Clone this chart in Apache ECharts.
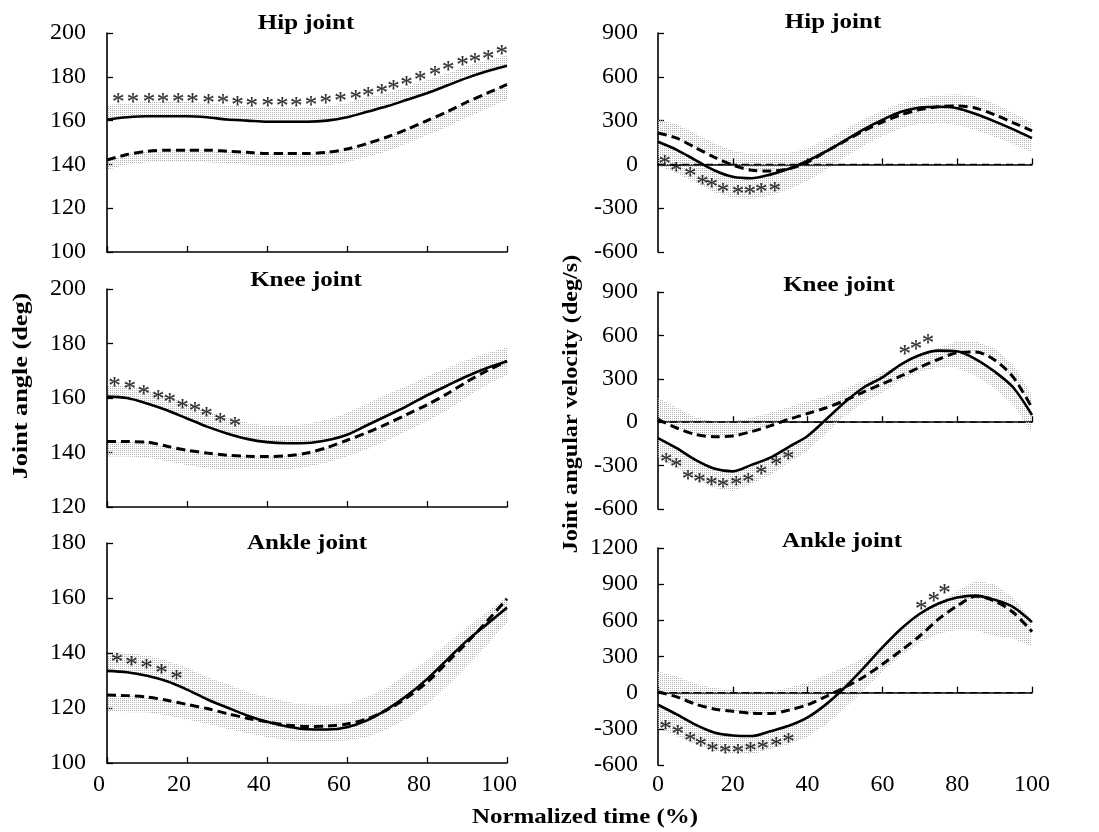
<!DOCTYPE html>
<html>
<head>
<meta charset="utf-8">
<script src="https://cdn.jsdelivr.net/npm/echarts@6/dist/echarts.min.js"></script>
<style>
  html, body { margin: 0; padding: 0; background: #fff; }
  #chart { width: 1099px; height: 832px; }
</style>
</head>
<body>
<div id="chart"></div>
<script>
// Normalized time axis (% of movement), sampled every 5 %
const TIME = [0,5,10,15,20,25,30,35,40,45,50,55,60,65,70,75,80,85,90,95,100];

// ---- Joint angle (deg): group A = solid line, group B = dashed line ----
const hipAngleA   = [160.5,161.5,162,162,162,161.5,160.5,160,159.5,159.5,159.5,160,161.5,164,166.5,169.5,172.5,176,179.5,182.5,185];
const hipAngleSdA = [6.5,6.5,6.5,6.5,6.5,6.5,6.5,6.5,6.5,6.5,6.5,6.5,6.5,6.5,6,6,6,5.5,5.5,5,5];
const hipAngleB   = [142,144.5,146,146.5,146.5,146.5,146,145.5,145,145,145,145.5,147,149.5,152.5,156,160,164,168.5,172.5,176.5];
const hipAngleSdB = [4.5,4.5,5,5,5,5.5,5.5,5.5,6,6,6,6,6,6,6.5,6.5,6.5,7,7,7,7];

const kneeAngleA   = [160.5,160,158,155.5,152.5,149.5,147,145,143.8,143.4,143.5,144.5,146.5,150,153.5,157,161,164.5,168,171,173.5];
const kneeAngleSdA = [4,4.5,5,5,5.5,5.5,6,6,6,6.5,7,7.5,8,8,8,7.5,7,6.5,6,5.5,5];
const kneeAngleB   = [144,144,143.8,142.3,140.8,139.8,139,138.6,138.5,138.8,139.8,141.8,144.5,147.3,150.5,154,157.5,161.5,166,170,173.5];
const kneeAngleSdB = [5.5,5.5,5.5,5.5,5.5,5.5,5.5,5,5,5,5,5.5,6,6,6,6,6,6,5.5,5,5];

const ankleAngleA   = [133.5,133,131.7,129.7,126.7,123.2,120.2,117.3,115,113.3,112.3,112.2,113,115.5,119.5,124.5,130.5,137.5,144.5,150.5,156.5];
const ankleAngleSdA = [7,7,7.5,7.5,8,8,8.5,8.5,9,9,9,9,8.5,8.5,8,8,7,6,5,4.5,4];
const ankleAngleB   = [124.7,124.5,124,122.8,121.3,119.8,118,116.3,115,113.8,113.3,113.4,114.2,116,119.3,123.8,129.3,136.5,143.8,151.5,159.7];
const ankleAngleSdB = [6,6,5.5,5.5,5.5,5.5,5.5,5.5,5.5,5.5,5.5,5.5,6,6.5,7,7.5,8,8.5,8.5,8.5,8.5];

// ---- Joint angular velocity (deg/s) ----
const hipVelA   = [155,100,30,-40,-85,-95,-70,-30,25,90,165,240,305,360,390,395,385,345,295,240,180];
const hipVelSdA = [165,160,155,150,145,140,145,140,135,125,115,110,110,110,110,110,115,110,105,100,100];
const hipVelB   = [215,180,115,50,-5,-40,-45,-30,15,90,160,230,290,340,375,395,400,385,340,285,230];
const hipVelSdB = [95,95,95,95,100,110,120,110,95,85,80,80,80,80,80,80,80,80,75,65,55];

const kneeVelA   = [-110,-180,-260,-320,-340,-295,-245,-170,-95,20,140,240,310,400,465,495,490,435,350,240,50];
const kneeVelSdA = [135,135,135,135,135,130,120,110,100,95,95,100,105,110,115,115,115,115,115,120,125];
const kneeVelB   = [20,-40,-85,-100,-95,-65,-25,20,60,100,150,210,265,320,380,435,480,485,430,310,100];
const kneeVelSdB = [150,140,120,105,100,95,90,85,85,80,80,80,80,80,80,80,80,75,80,85,90];

const ankleVelA   = [-100,-180,-265,-330,-355,-360,-320,-275,-205,-95,45,205,375,530,655,740,790,805,770,710,585];
const ankleVelSdA = [200,180,165,155,150,150,150,155,160,165,170,180,200,220,240,250,270,290,300,260,205];
const ankleVelB   = [5,-35,-95,-135,-155,-170,-173,-145,-100,-30,45,130,235,350,470,610,720,800,760,665,505];
const ankleVelSdB = [170,170,170,175,175,175,180,185,185,180,170,160,150,140,130,125,125,130,140,120,100];

// ---- Significant-difference markers [time %, value] ----
const hipAngleSig = [[2.8,169.5],[6.5,169.8],[10.5,169.8],[14,169.8],[17.8,169.8],[21.4,169.5],[25.4,169.3],[29,169],[32.6,168.5],[36.2,168],[40.2,168],[43.8,168],[47.3,168],[51,168.5],[54.7,169],[58.4,170],[62.2,171],[65.3,172.3],[68.7,173.8],[71.6,175.5],[74.9,177.5],[78.3,179.5],[82,182],[85.3,184.3],[88.9,186.5],[92,188],[95.3,189.5],[98.7,191.5]];
const kneeAngleSig = [[1.9,165.4],[5.7,164.1],[9.2,162.3],[12.8,160.5],[15.7,159.3],[18.9,157.4],[22,156.2],[24.9,154.4],[28.3,152.2],[32,150.5]];
const ankleAngleSig = [[2.5,137.7],[6.1,136.5],[9.9,135.3],[13.6,133.6],[17.4,131.6]];
const hipVelSig = [[1.8,20],[4.9,-25],[8.6,-59],[11.9,-116],[14.4,-139],[17.4,-173],[21.4,-185],[24.5,-185],[27.6,-173],[31.2,-162]];
const kneeVelSig = [[2.2,-258],[4.9,-292],[8,-373],[11.1,-396],[14.3,-419],[17.4,-430],[20.9,-419],[24.1,-396],[27.6,-338],[31.6,-281],[34.8,-235],[66,490],[69,525],[72.2,564]];
const ankleVelSig = [[2,-277],[5.3,-324],[8.6,-380],[11.4,-421],[14.6,-462],[18,-476],[21.4,-482],[24.7,-462],[28,-449],[31.6,-421],[34.9,-388],[70.4,716],[73.7,780],[76.6,849]];

// Axis ranges [min, max, interval]
const hipAngleRange   = [100, 200, 20];
const kneeAngleRange  = [120, 200, 20];
const ankleAngleRange = [100, 180, 20];
const hipVelRange     = [-600, 900, 300];
const kneeVelRange    = [-600, 900, 300];
const ankleVelRange   = [-600, 1200, 300];

const FONT = '"Liberation Serif", "Times New Roman", serif';
const BOLD = 'bold 21px ' + FONT;
const TEXT_STRETCH = 1.19;

// dotted grey texture used for the SD bands
function dotPattern() {
  const c = document.createElement('canvas');
  c.width = 2; c.height = 2;
  const ctx = c.getContext('2d');
  ctx.fillStyle = '#b0b0b0';
  ctx.fillRect(0, 0, 1, 1);
  return { image: c, repeat: 'repeat' };
}
const PATTERN = dotPattern();

// Panel layout: mean/SD arrays plus which side of the mean the SD band is drawn
const panels = [
  { grid: { left: 107, top: 33,  width: 400, height: 219 }, range: hipAngleRange,   a: hipAngleA,   sdA: hipAngleSdA,   dirA: 1,  b: hipAngleB,   sdB: hipAngleSdB,   dirB: -1, sig: hipAngleSig,   zero: false, xLabels: false, title: 'Hip joint',   tx: 306, ty: 24 },
  { grid: { left: 107, top: 289, width: 400, height: 218 }, range: kneeAngleRange,  a: kneeAngleA,  sdA: kneeAngleSdA,  dirA: 1,  b: kneeAngleB,  sdB: kneeAngleSdB,  dirB: -1, sig: kneeAngleSig,  zero: false, xLabels: false, title: 'Knee joint',  tx: 306, ty: 281 },
  { grid: { left: 107, top: 543, width: 400, height: 220 }, range: ankleAngleRange, a: ankleAngleA, sdA: ankleAngleSdA, dirA: 1,  b: ankleAngleB, sdB: ankleAngleSdB, dirB: -1, sig: ankleAngleSig, zero: false, xLabels: true,  title: 'Ankle joint', tx: 307, ty: 544, shiftLabels: true },
  { grid: { left: 658, top: 33,  width: 374, height: 219 }, range: hipVelRange,     a: hipVelA,     sdA: hipVelSdA,     dirA: -1, b: hipVelB,     sdB: hipVelSdB,     dirB: 1,  sig: hipVelSig,     zero: true,  xLabels: false, title: 'Hip joint',   tx: 833, ty: 23 },
  { grid: { left: 658, top: 292, width: 374, height: 217 }, range: kneeVelRange,    a: kneeVelA,    sdA: kneeVelSdA,    dirA: -1, b: kneeVelB,    sdB: kneeVelSdB,    dirB: 1,  sig: kneeVelSig,    zero: true,  xLabels: false, title: 'Knee joint',  tx: 839, ty: 286 },
  { grid: { left: 658, top: 548, width: 374, height: 217 }, range: ankleVelRange,   a: ankleVelA,   sdA: ankleVelSdA,   dirA: -1, b: ankleVelB,   sdB: ankleVelSdB,   dirB: 1,  sig: ankleVelSig,   zero: true,  xLabels: true,  title: 'Ankle joint', tx: 842, ty: 542 }
];

const grids = [], xAxes = [], yAxes = [], series = [], graphics = [];

function pairs(arr) { return TIME.map((t, i) => [t, arr[i]]); }

// One SD band: a dotted polygon between lo and hi, placed through the axes
function bandSeries(k, lo, hi) {
  return {
    type: 'custom', xAxisIndex: k, yAxisIndex: k, silent: true, clip: true, z: 1,
    data: TIME.map((t, i) => [t, lo[i], hi[i]]),
    encode: { x: 0, y: [1, 2] },
    renderItem: function (params, api) {
      if (params.dataIndex !== 0) return null;
      const upper = TIME.map((t, i) => api.coord([t, hi[i]]));
      const lower = TIME.map((t, i) => api.coord([t, lo[i]])).reverse();
      return {
        type: 'polygon',
        shape: { points: upper.concat(lower) },
        style: { fill: PATTERN, stroke: null }
      };
    }
  };
}

panels.forEach((p, k) => {
  const right = k >= 3;
  grids.push(Object.assign({ containLabel: false }, p.grid));
  xAxes.push({
    type: 'value', gridIndex: k, min: 0, max: 100, interval: 20,
    axisLine: { show: true, lineStyle: { color: '#000', width: 1.6 } },
    axisTick: { show: true, inside: true, length: 6, lineStyle: { color: '#000', width: 1.3 } },
    axisLabel: {
      show: p.xLabels, fontFamily: FONT, fontSize: 24, color: '#000',
      margin: right ? 8 : 10,
      padding: p.shiftLabels ? [0, 16, 0, 0] : 0,
      formatter: v => String(v)
    },
    splitLine: { show: false }
  });
  yAxes.push({
    type: 'value', gridIndex: k, min: p.range[0], max: p.range[1], interval: p.range[2],
    axisLine: { show: true, lineStyle: { color: '#000', width: 1.6 } },
    axisTick: { show: true, inside: true, length: 6, lineStyle: { color: '#000', width: 1.3 } },
    axisLabel: { fontFamily: FONT, fontSize: 24, color: '#000', margin: right ? 20 : 21, formatter: v => String(v) },
    splitLine: { show: false }
  });

  [[p.a, p.sdA, p.dirA], [p.b, p.sdB, p.dirB]].forEach(([mean, sd, dir]) => {
    const lo = dir > 0 ? mean : mean.map((v, i) => v - sd[i]);
    const hi = dir > 0 ? mean.map((v, i) => v + sd[i]) : mean;
    series.push(bandSeries(k, lo, hi));
  });

  if (p.zero) {
    series.push({
      type: 'line', xAxisIndex: k, yAxisIndex: k, data: [[0, 0], [100, 0]],
      symbol: 'none', silent: true,
      lineStyle: { color: '#000', width: 1.2, type: [7, 5] }, z: 2
    });
  }

  series.push({
    type: 'line', xAxisIndex: k, yAxisIndex: k, data: pairs(p.b), smooth: 0.3,
    symbol: 'none', silent: true,
    lineStyle: { color: '#000', width: 3, type: [9, 5] }, z: 3
  });
  series.push({
    type: 'line', xAxisIndex: k, yAxisIndex: k, data: pairs(p.a), smooth: 0.3,
    symbol: 'none', silent: true,
    lineStyle: { color: '#000', width: 2.6 }, z: 4
  });

  series.push({
    type: 'scatter', xAxisIndex: k, yAxisIndex: k, data: p.sig,
    symbol: 'circle', symbolSize: 1, silent: true,
    itemStyle: { color: 'rgba(0,0,0,0)' },
    label: {
      show: true, formatter: '*', position: 'inside', offset: [0, 4],
      fontFamily: FONT, fontSize: 25, color: '#000',
      textBorderColor: '#000', textBorderWidth: 0.15
    },
    z: 5
  });

  graphics.push({
    type: 'text', x: p.tx, y: p.ty, scaleX: TEXT_STRETCH,
    style: { text: p.title, font: BOLD, fill: '#000', textAlign: 'center', textVerticalAlign: 'middle' }
  });
});

graphics.push({
  type: 'text', x: 22, y: 386, rotation: Math.PI / 2, scaleX: 1.25,
  style: { text: 'Joint angle (deg)', font: BOLD, fill: '#000', textAlign: 'center', textVerticalAlign: 'middle' }
});
graphics.push({
  type: 'text', x: 572, y: 404, rotation: Math.PI / 2, scaleX: 1.15,
  style: { text: 'Joint angular velocity (deg/s)', font: BOLD, fill: '#000', textAlign: 'center', textVerticalAlign: 'middle' }
});
graphics.push({
  type: 'text', x: 585, y: 818, scaleX: TEXT_STRETCH,
  style: { text: 'Normalized time (%)', font: BOLD, fill: '#000', textAlign: 'center', textVerticalAlign: 'middle' }
});

const chart = echarts.init(document.getElementById('chart'), null, { renderer: 'canvas' });
chart.setOption({
  animation: false,
  backgroundColor: '#fff',
  grid: grids,
  xAxis: xAxes,
  yAxis: yAxes,
  series: series,
  graphic: graphics
});
</script>
</body>
</html>
